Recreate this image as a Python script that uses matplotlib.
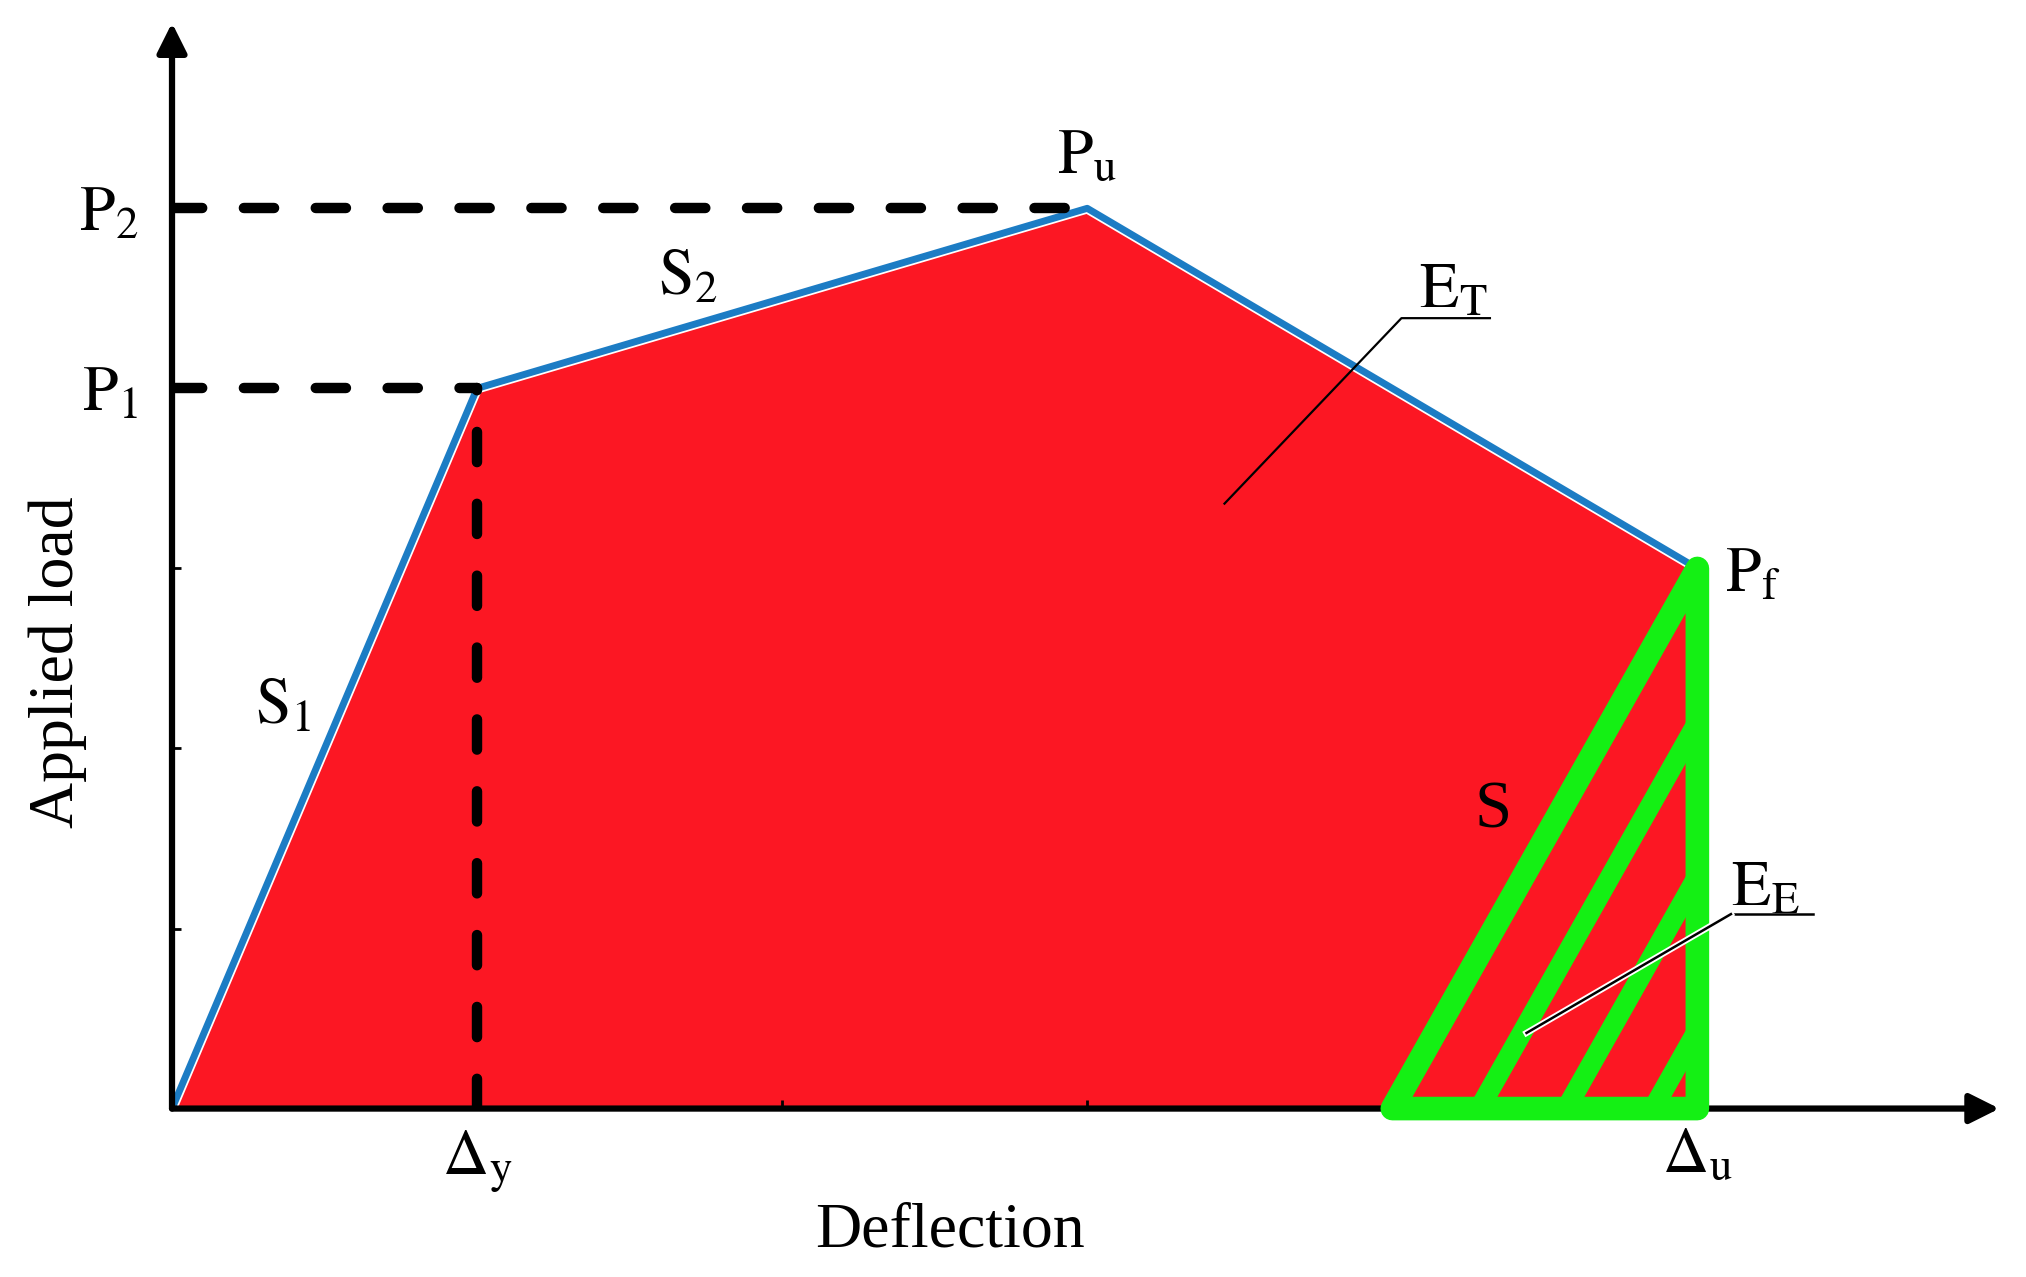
import matplotlib.pyplot as plt
from matplotlib.patches import Polygon
import matplotlib.patheffects as pe

plt.rcParams['font.family'] = ['Liberation Serif', 'DejaVu Serif']
plt.rcParams['mathtext.fontset'] = 'stix'

# load-deflection curve (in tick units)
curve_x = [0, 1, 3, 5]
curve_y = [0, 4, 5, 3]

# region of elastic energy (triangle under the failure point)
tri_x = [4, 5, 5]
tri_y = [0, 3, 0]
stripe_start = [4.285, 4.57, 4.855]

xticks = [1, 2, 3, 4, 5]
xtick_labels = [r'$\Delta_\mathrm{y}$', '', '', '', r'$\Delta_\mathrm{u}$']
yticks = [1, 2, 3, 4, 5]
ytick_labels = ['', '', '', r'$\mathrm{P}_1$', r'$\mathrm{P}_2$']

red = '#fc1723'
blue = '#1c7cc4'
green = '#14f014'
fs = 46

fig = plt.figure(figsize=(20.26, 12.77), dpi=100)
ax = fig.add_axes([0.0849, 0.1319, 0.911, 0.853])
ax.set_xlim(0, 6.05)
ax.set_ylim(0, 6.05)
for s in ax.spines.values():
    s.set_visible(False)

# total energy area
ax.fill(curve_x + [curve_x[-1]], curve_y + [0], color=red, lw=0, zorder=1)
ax.plot(curve_x, curve_y, color='white', lw=7.5, zorder=2, solid_capstyle='round')
ax.plot(curve_x, curve_y, color=blue, lw=5, zorder=3, solid_capstyle='round')

# dashed guide lines
dash = dict(color='black', lw=7.5, dashes=(2.9, 4.0), dash_capstyle='round', zorder=4)
ax.plot([0, curve_x[2]], [curve_y[2], curve_y[2]], **dash)
ax.plot([0, curve_x[1]], [curve_y[1], curve_y[1]], **dash)
ax.plot([curve_x[1], curve_x[1]], [0, curve_y[1]], **dash)

# axes with arrows
arrow = dict(arrowstyle='-|>', lw=4.5, color='black', mutation_scale=45, shrinkA=0, shrinkB=0)
ax.annotate('', xy=(5.99, 0), xytext=(0, 0), arrowprops=arrow, zorder=5, annotation_clip=False)
ax.annotate('', xy=(0, 6.03), xytext=(0, 0), arrowprops=arrow, zorder=5, annotation_clip=False)

# elastic energy triangle with hatch stripes
slope = (tri_y[1] - tri_y[0]) / (tri_x[1] - tri_x[0])
for x0 in stripe_start:
    ax.plot([x0, tri_x[1]], [0, slope * (tri_x[1] - x0)], color=green, lw=14.5,
            solid_capstyle='butt', zorder=6)
ax.add_patch(Polygon(list(zip(tri_x, tri_y)), closed=True, fill=False, edgecolor=green,
                     lw=17, joinstyle='round', zorder=7, clip_on=False))

ax.set_xticks(xticks)
ax.set_xticklabels(xtick_labels, fontsize=fs)
ax.set_yticks(yticks)
ax.set_yticklabels(ytick_labels, fontsize=fs)
ax.tick_params(axis='x', direction='in', length=6.5, width=2, pad=14)
ax.tick_params(axis='y', direction='in', length=6.5, width=2, pad=24)

# annotations
ax.text(3.0, 5.2, r'$\mathrm{P}_\mathrm{u}$', fontsize=fs, ha='center', va='baseline', zorder=8)
ax.text(1.69, 4.52, r'$\mathrm{S}_2$', fontsize=fs, ha='center', va='baseline', zorder=8)
ax.text(0.365, 2.14, r'$\mathrm{S}_1$', fontsize=fs, ha='center', va='baseline', zorder=8)
ax.text(4.20, 4.45, r'$\mathrm{E}_\mathrm{T}$', fontsize=fs, ha='center', va='baseline', zorder=8)
ax.text(5.09, 2.87, r'$\mathrm{P}_\mathrm{f}$', fontsize=fs, ha='left', va='baseline', zorder=8)
ax.text(4.33, 1.56, 'S', fontsize=fs + 2, ha='center', va='baseline', zorder=8)
ax.text(5.11, 1.13, r'$\mathrm{E}_\mathrm{E}$', fontsize=fs, ha='left', va='baseline', zorder=8)

# leader lines
ax.plot([4.32, 4.03, 3.45], [4.39, 4.39, 3.36], color='black', lw=1.6, zorder=8)
ax.plot([5.38, 5.11], [1.08, 1.08], color='black', lw=1.8, zorder=8, clip_on=False)
ax.plot([5.11, 4.44], [1.08, 0.42], color='black', lw=1.8, zorder=8,
        path_effects=[pe.withStroke(linewidth=4.5, foreground='white')])

ax.text(2.55, -0.52, 'Deflection', fontsize=fs, ha='center', va='top')
ax.text(-0.373, 2.48, 'Applied load', fontsize=fs, ha='center', va='center', rotation=90)

fig.savefig('out.png', dpi=100)
